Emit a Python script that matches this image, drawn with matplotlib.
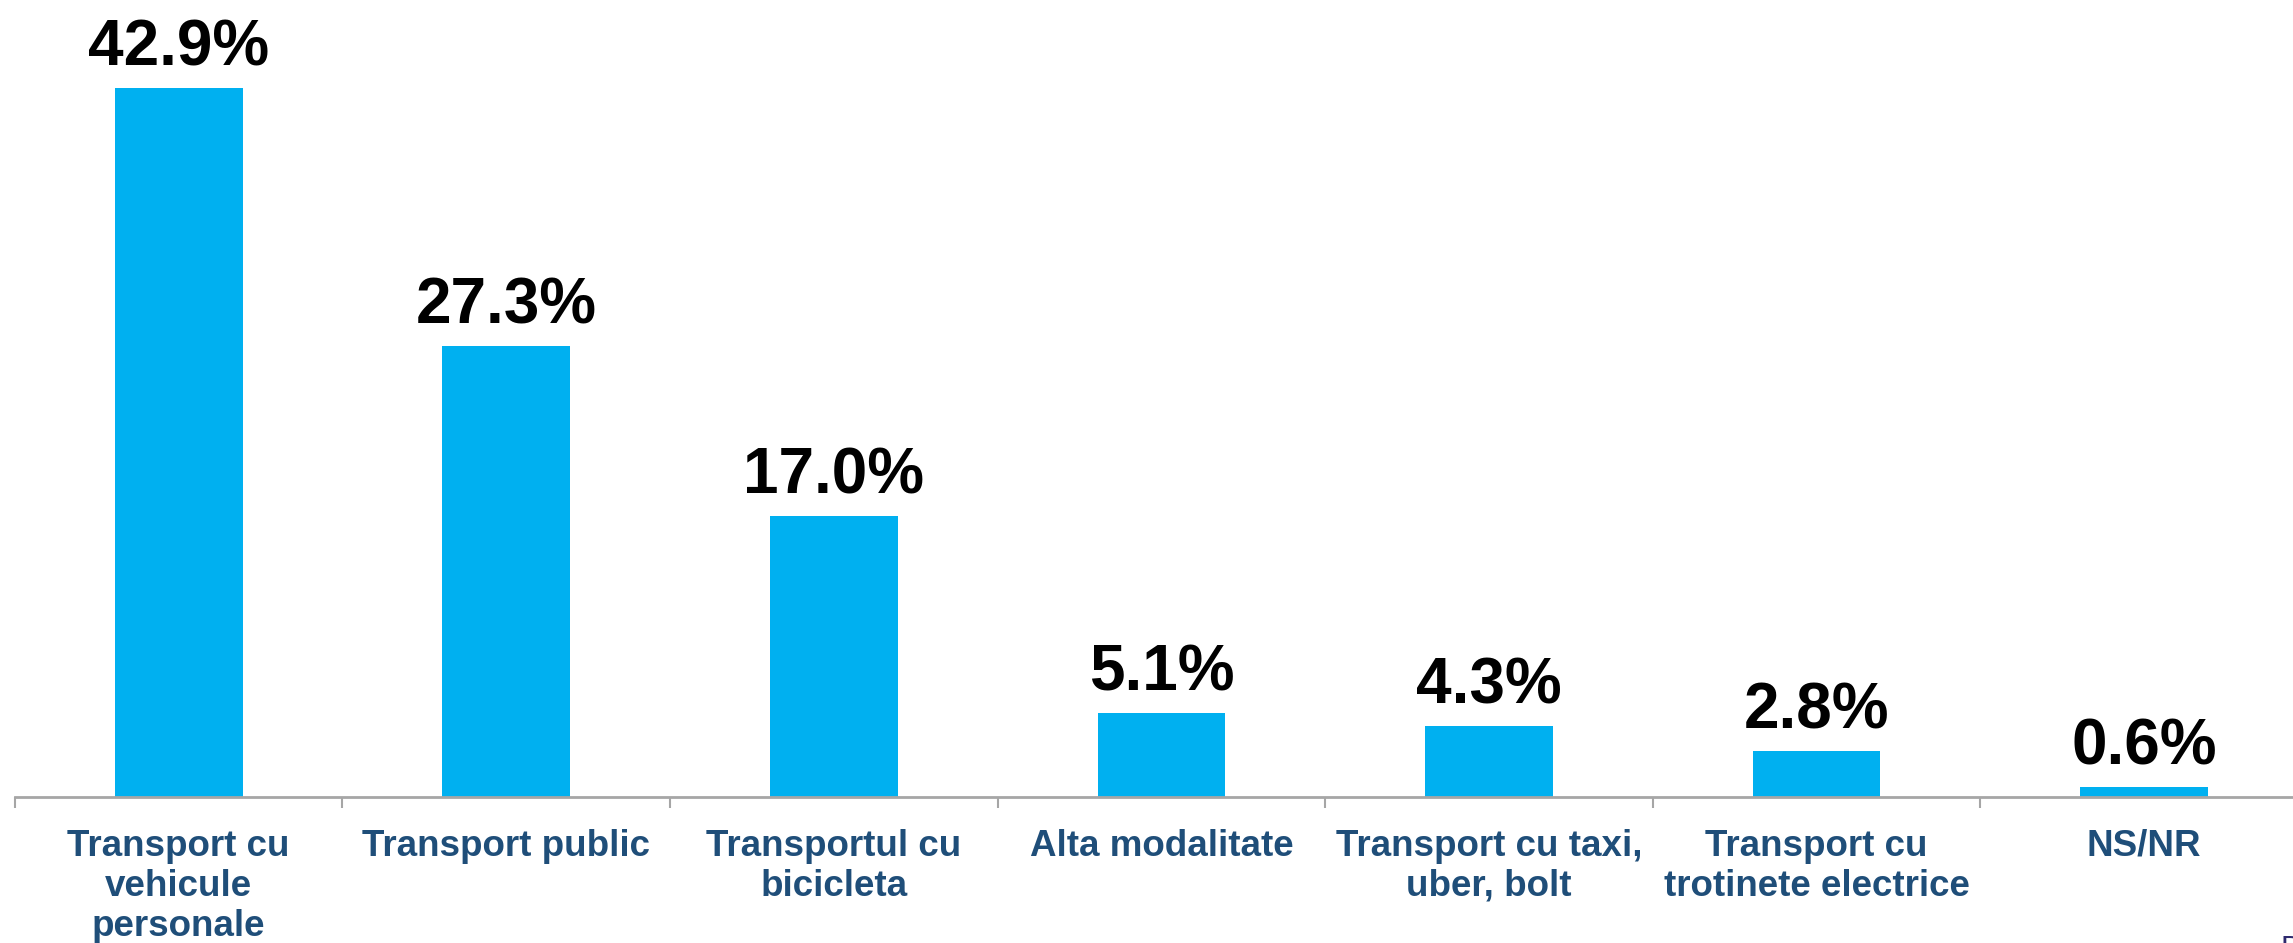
import matplotlib.pyplot as plt
import numpy as np

categories = ['Transport cu\nvehicule\npersonale', 'Transport public', 'Transportul cu\nbicicleta',
              'Alta modalitate', 'Transport cu taxi,\nuber, bolt', 'Transport cu\ntrotinete electrice', 'NS/NR']
values = [42.9, 27.3, 17.0, 5.1, 4.3, 2.8, 0.6]

plt.rcParams['font.family'] = ['Liberation Sans', 'DejaVu Sans']

fig = plt.figure(figsize=(22.93, 9.43), dpi=100)
ax = fig.add_axes([0.0065, 0.1548, 1.0, 0.8452])

x = np.arange(len(categories))
ax.bar(x, values, width=0.39, color='#00B0F0', zorder=2)

for xi, v in zip(x, values):
    ax.annotate(f'{v:.1f}%', (xi, v), xytext=(0, 16), textcoords='offset points',
                ha='center', va='baseline', fontsize=46, fontweight='bold', color='black')

ax.set_xlim(-0.5, len(categories) - 0.5)
ax.set_ylim(0, 48.2)

# labels at centres, tick marks at the category borders
ax.set_xticks(x)
ax.set_xticklabels(categories, fontsize=26.5, fontweight='bold', color='#1F4E79', linespacing=1.18)
ax.tick_params(axis='x', which='major', length=0, pad=23)
ax.set_xticks(np.arange(len(categories)) - 0.5, minor=True)
ax.tick_params(axis='x', which='minor', length=8, width=1.5, color='#A6A6A6')

ax.set_yticks([])
for s in ['top', 'right', 'left']:
    ax.spines[s].set_visible(False)
ax.spines['bottom'].set_color('#A6A6A6')
ax.spines['bottom'].set_linewidth(2)

fig.text(0.9945, 0.009, 'D', fontsize=22, color='#2E2A6E', va='top', ha='left')

fig.savefig('out.png', dpi=100)
